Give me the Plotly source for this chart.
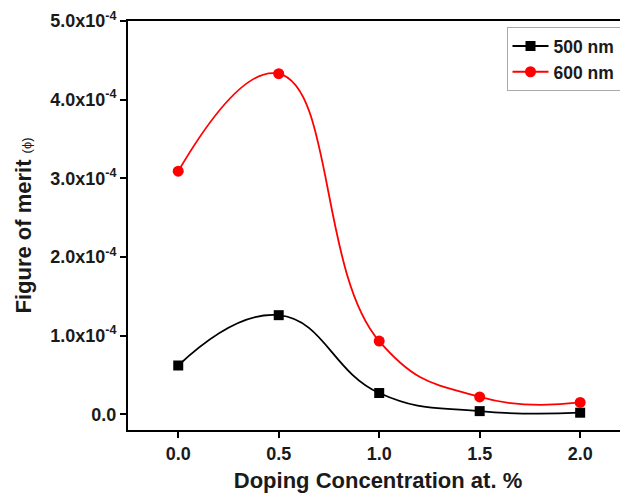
import plotly.graph_objects as go

doping = [0.0, 0.5, 1.0, 1.5, 2.0]
fom_500 = [0.62e-4, 1.26e-4, 0.27e-4, 0.04e-4, 0.02e-4]
fom_600 = [3.09e-4, 4.33e-4, 0.93e-4, 0.22e-4, 0.15e-4]

y_tickvals = [0, 1e-4, 2e-4, 3e-4, 4e-4, 5e-4]
y_ticktext = ["0.0", "1.0x10<sup>-4</sup>", "2.0x10<sup>-4</sup>", "3.0x10<sup>-4</sup>",
              "4.0x10<sup>-4</sup>", "5.0x10<sup>-4</sup>"]
x_tickvals = [0.0, 0.5, 1.0, 1.5, 2.0]
x_ticktext = ["0.0", "0.5", "1.0", "1.5", "2.0"]

font_family = "Liberation Sans, Arial, sans-serif"

fig = go.Figure()
fig.add_trace(go.Scatter(
    x=doping, y=fom_500, name="<b>500 nm</b>", mode="lines+markers",
    line=dict(color="black", width=1.8, shape="spline", smoothing=1.3),
    marker=dict(symbol="square", size=10, color="black"),
))
fig.add_trace(go.Scatter(
    x=doping, y=fom_600, name="<b>600 nm</b>", mode="lines+markers",
    line=dict(color="red", width=1.8, shape="spline", smoothing=1.3),
    marker=dict(symbol="circle", size=11, color="red"),
))

fig.update_layout(
    width=620, height=485,
    margin=dict(l=120, r=0, t=13, b=63),
    paper_bgcolor="white", plot_bgcolor="white",
    font=dict(family=font_family, color="#1a1a1a"),
    showlegend=True,
    legend=dict(
        x=0.757, y=0.985, xanchor="left", yanchor="top",
        bordercolor="#aaaaaa", borderwidth=1, bgcolor="white",
        font=dict(size=17.5, color="#1a1a1a"),
        tracegroupgap=0, itemwidth=36,
    ),
    xaxis=dict(
        range=[-0.25, 2.238], tickvals=x_tickvals, ticktext=x_ticktext,
        showline=True, linecolor="black", linewidth=2, mirror=True,
        ticks="outside", ticklen=6, tickwidth=2, tickcolor="black",
        showgrid=False, zeroline=False,
        tickfont=dict(size=18, family=font_family, weight="bold"),
        title=dict(text="<b>Doping Concentration at. %</b>", font=dict(size=22), standoff=12),
    ),
    yaxis=dict(
        range=[-0.2e-4, 5e-4], tickvals=y_tickvals, ticktext=y_ticktext,
        showline=True, linecolor="black", linewidth=2, mirror=False,
        ticks="outside", ticklen=6, tickwidth=2, tickcolor="black",
        showgrid=False, zeroline=False,
        tickfont=dict(size=18, family=font_family, weight="bold"),
        title=dict(text="<b>Figure of merit</b> <span style='font-size:13px'>(ϕ)</span>",
                   font=dict(size=22), standoff=12),
    ),
)

fig.write_html("out.html")
